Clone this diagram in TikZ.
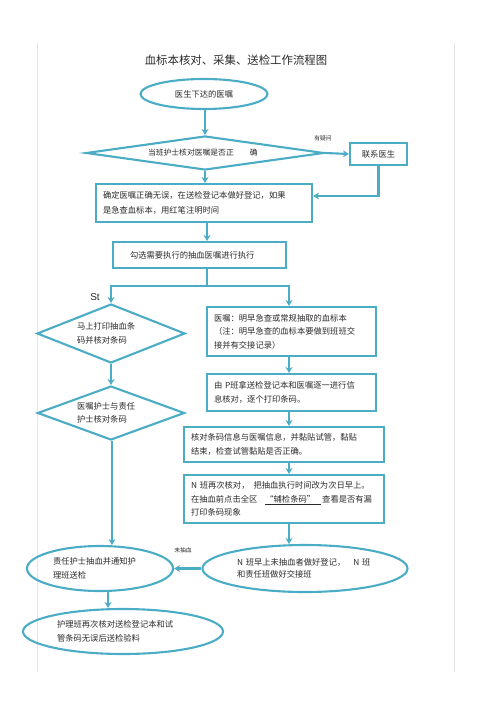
\documentclass[tikz,border=0pt]{standalone}
\usepackage{fontspec}
\setmainfont{Noto Sans CJK SC}
\newfontfamily\latinsans{Liberation Sans}
\usetikzlibrary{shapes.geometric,arrows.meta}
\definecolor{flow}{HTML}{4BACC6}
\definecolor{txt}{HTML}{2A2A2A}
\definecolor{pageline}{HTML}{E4E4E4}
\begin{document}
\begin{tikzpicture}[x=1pt,y=-1pt,
  every node/.style={text=txt, font=\fontsize{8.3}{13.5}\selectfont},
  box/.style={draw=flow, line width=2.1pt, rectangle, inner xsep=7pt, inner ysep=0pt, align=left},
  oval/.style={draw=flow, line width=2.1pt, ellipse, inner sep=0pt, align=left},
  dia/.style={draw=flow, line width=2.1pt, diamond, inner sep=0pt, align=left},
  arr/.style={draw=flow, line width=2.1pt, -{Stealth[length=6pt,width=7pt,inset=2pt]}},
  conn/.style={draw=flow, line width=2.1pt},
  small/.style={font=\fontsize{5.8}{7}\selectfont}
]
\useasboundingbox (0,0) rectangle (500,708);
% page edges
\draw[pageline, line width=0.8pt] (37,43) -- (37,672);
\draw[pageline, line width=0.8pt] (454,43) -- (454,672);

% title
\node[font=\fontsize{11.4}{13}\selectfont] (title) at (236,60) {血标本核对、采集、送检工作流程图};

% column coordinates
\coordinate (cA) at (207,0);
\coordinate (cB) at (289,0);
\coordinate (cC) at (112,0);
\coordinate (cD) at (108,0);
\coordinate (sy) at (0,286);

\node[oval, minimum width=127pt, minimum height=30pt, align=center] (e1) at (204,94) {医生下达的医嘱};
\node[dia, aspect=7, minimum width=238pt, minimum height=34pt, text width=114pt, font=\fontsize{7.8}{10}\selectfont] (d1) at (205,153) {当班护士核对医嘱是否正\hspace{16pt}确};
\node[box, minimum width=57pt, minimum height=22pt, inner xsep=0pt, align=center] (ld) at (378.5,154) {联系医生};
\node[small] (q) at (323,138) {有疑问};

\node[box, minimum width=216pt, minimum height=38pt, text width=202pt] (b2) at (204,203) {确定医嘱正确无误，在送检登记本做好登记，如果\\[1.5pt]是急查血标本，用红笔注明时间};
\node[box, minimum width=173pt, minimum height=26pt, inner xsep=17pt, text width=139pt] (b3) at (199.5,255) {勾选需要执行的抽血医嘱进行执行};

\node[font=\latinsans\fontsize{10}{12}\selectfont] (st) at (95,297) {St};

\node[dia, aspect=2.5, minimum width=148pt, minimum height=59pt, text width=68pt] (d2) at (111,333.5) {马上打印抽血条\\码并核对条码};
\node[dia, aspect=2.7, minimum width=147pt, minimum height=54pt, text width=68pt] (d3) at (111,413) {医嘱护士与责任\\护士核对条码};

\node[box, minimum width=169pt, minimum height=49pt, text width=155pt] (b4) at (291.5,331.5) {医嘱：明早急查或常规抽取的血标本\\（注：明早急查的血标本要做到班班交\\接并有交接记录）};
\node[box, minimum width=169pt, minimum height=37pt, text width=155pt] (b5) at (291.5,392.5) {由 P班拿送检登记本和医嘱逐一进行信\\息核对，逐个打印条码。};
\node[box, minimum width=200pt, minimum height=35pt, text width=186pt] (b6) at (284,444.5) {核对条码信息与医嘱信息，并黏贴试管，黏贴\\结束，检查试管黏贴是否正确。};
\node[box, minimum width=200pt, minimum height=48pt, text width=186pt] (b7) at (284,499) {N 班再次核对，\hspace{4pt}把抽血执行时间改为次日早上。\\在抽血前点击全区\hspace{8pt}\underline{“辅检条码”\hspace{6pt}}\hspace{1pt}查看是否有漏\\打印条码现象};

\node[oval, minimum width=205pt, minimum height=47pt, text width=136pt, font=\fontsize{8.3}{12}\selectfont] (re) at (305,568.5) {N 班早上未抽血者做好登记，\hspace{8pt}N 班\\和责任班做好交接班};
\node[font=\fontsize{6}{7}\selectfont] (dot) at (238,590) {.};
\node[oval, minimum width=146pt, minimum height=45pt, text width=94pt] (le1) at (100,568.5) {责任护士抽血并通知护\\理班送检};
\node[small] (nb) at (183,550) {未抽血};
\node[oval, minimum width=200pt, minimum height=45pt, text width=132pt] (le2) at (123,631.5) {护理班再次核对送检登记本和试\\管条码无误后送检验料};

% connectors
\draw[arr] (e1.south -| d1.north) -- (d1.north);
\draw[arr] (d1.east) -- (ld.west);
\draw[arr] (ld.south) |- ([yshift=7pt]b2.east);
\draw[arr] (d1.south) -- (d1.south |- b2.north);
\draw[arr] (b2.south -| cA) -- (b3.north -| cA);
\draw[conn] (b3.south -| cA) -- (sy -| cA);
\draw[arr] (sy -| cA) -| (d2.north);
\draw[arr] (sy -| cA) -| (b4.north -| cB);
\draw[arr] (d2.south) -- (d3.north);
\draw[arr] (d3.south -| cC) -- (le1.north -| cC);
\draw[arr] (b4.south -| cB) -- (b5.north -| cB);
\draw[arr] (b5.south -| cB) -- (b6.north -| cB);
\draw[arr] (b6.south -| cB) -- (b7.north -| cB);
\draw[arr] (b7.south -| cB) -- (re.north -| cB);
\draw[arr] (re.west) -- (le1.east);
\draw[arr] (le1.south -| cD) -- (le2.north -| cD);
\end{tikzpicture}
\end{document}
